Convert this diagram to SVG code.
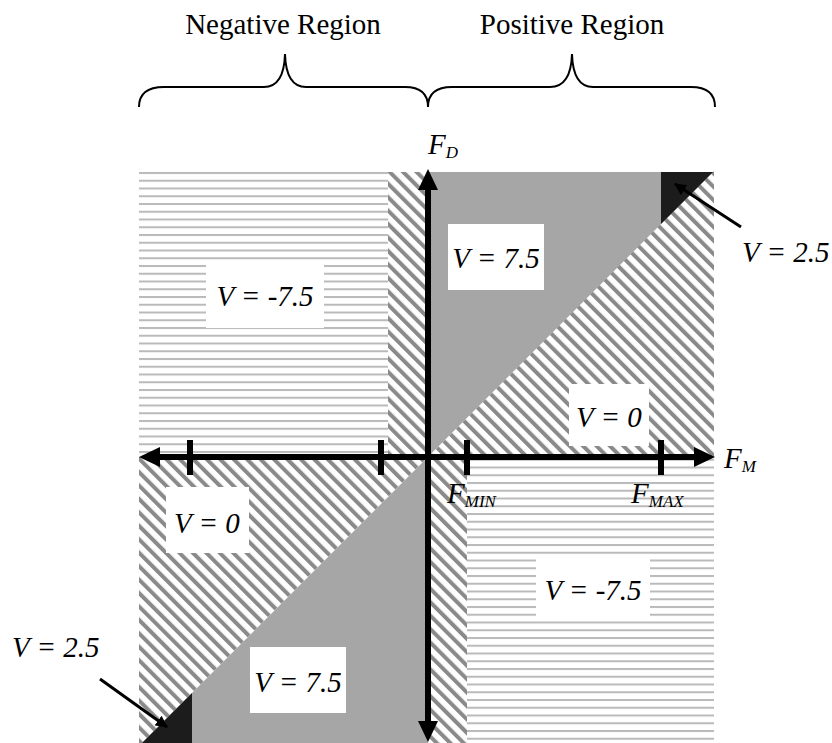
<svg xmlns="http://www.w3.org/2000/svg" width="832" height="743" viewBox="0 0 832 743">
  <style>
    .t { font-family: "Liberation Serif", "Times New Roman", serif; font-size: 29px; fill: #000; }
    .it { font-style: italic; }
    .sub { font-size: 17px; font-style: italic; }
    .box { fill: #fff; }
    .axis { stroke: #000; stroke-width: 6; fill: none; }
    .tick { fill: #000; }
    .brace { stroke: #000; stroke-width: 2; fill: none; }
    .conn { stroke: #000; stroke-width: 3; fill: none; }
  </style>
  <defs>
    <pattern id="hl" patternUnits="userSpaceOnUse" x="0" y="172" width="16" height="7.75">
      <rect width="16" height="2" fill="#bababa"/>
    </pattern>
    <pattern id="hatch" patternUnits="userSpaceOnUse" width="9.5" height="9.5" patternTransform="rotate(-45)">
      <rect width="9.5" height="9.5" fill="#fff"/>
      <rect width="4" height="9.5" fill="#8a8a8a"/>
    </pattern>
    <marker id="ah" viewBox="0 0 12 12" refX="11" refY="6" markerWidth="12" markerHeight="12" markerUnits="userSpaceOnUse" orient="auto">
      <path d="M0,0 L12,6 L0,12 Z" fill="#000"/>
    </marker>
  </defs>

  <rect width="832" height="743" fill="#fff"/>

  <!-- region headings and braces -->
  <g id="heading-negative">
    <text class="t" x="283" y="34" text-anchor="middle">Negative Region</text>
    <path class="brace" d="M139,107 Q139,87 164,87 L264,87 Q284,87 285,54 Q286,87 306,87 L405,87 Q428,87 428,107"/>
  </g>
  <g id="heading-positive">
    <text class="t" x="572" y="34" text-anchor="middle">Positive Region</text>
    <path class="brace" d="M428,107 Q428,87 452,87 L550,87 Q571,87 572,54 Q573,87 593,87 L691,87 Q715,87 715,107"/>
  </g>

  <!-- regions -->
  <g id="regions">
    <rect x="139" y="172" width="249" height="285" fill="url(#hl)"/>
    <rect x="388" y="172" width="40" height="285" fill="url(#hatch)"/>
    <polygon points="428,172 714,172 428,457" fill="#a6a6a6"/>
    <polygon points="428,457 714,171 714,457" fill="url(#hatch)"/>
    <polygon points="661,172 713,172 661,224" fill="#1c1c1c"/>
    <polygon points="139,457 428,457 139,746" fill="url(#hatch)"/>
    <polygon points="428,457 428,743 142,743" fill="#a6a6a6"/>
    <polygon points="192,693 192,743 142,743" fill="#1c1c1c"/>
    <rect x="428" y="457" width="39" height="286" fill="url(#hatch)"/>
    <rect x="467" y="457" width="247" height="286" fill="url(#hl)"/>
  </g>

  <!-- axes -->
  <g id="axes">
    <line class="axis" x1="428" y1="188" x2="428" y2="724"/>
    <polygon points="428,169 418,190 438,190" fill="#000"/>
    <polygon points="428,742 418,721 438,721" fill="#000"/>
    <line class="axis" x1="157" y1="457" x2="697" y2="457"/>
    <polygon points="139,457 160,447 160,467" fill="#000"/>
    <polygon points="715,457 694,447 694,467" fill="#000"/>
    <rect class="tick" x="187" y="440" width="6" height="35"/>
    <rect class="tick" x="378" y="440" width="6" height="35"/>
    <rect class="tick" x="464" y="440" width="6" height="35"/>
    <rect class="tick" x="658" y="440" width="6" height="35"/>
  </g>

  <!-- axis labels -->
  <g id="label-fd"><text class="t it" x="428" y="154">F<tspan class="sub" dy="4">D</tspan></text></g>
  <g id="label-fm"><text class="t it" x="724" y="468">F<tspan class="sub" dy="4">M</tspan></text></g>
  <g id="label-fmin"><text class="t it" x="447" y="503">F<tspan class="sub" dy="4">MIN</tspan></text></g>
  <g id="label-fmax"><text class="t it" x="631" y="503">F<tspan class="sub" dy="4">MAX</tspan></text></g>

  <!-- value labels -->
  <g id="v-tl">
    <rect class="box" x="206" y="262" width="118" height="66"/>
    <text class="t it" x="265" y="306" text-anchor="middle">V = -7.5</text>
  </g>
  <g id="v-top">
    <rect class="box" x="448" y="224" width="96" height="66"/>
    <text class="t it" x="496" y="268" text-anchor="middle">V = 7.5</text>
  </g>
  <g id="v-right">
    <rect class="box" x="569" y="384" width="80" height="62"/>
    <text class="t it" x="609" y="427" text-anchor="middle">V = 0</text>
  </g>
  <g id="v-left">
    <rect class="box" x="166" y="487" width="83" height="66"/>
    <text class="t it" x="207" y="533" text-anchor="middle">V = 0</text>
  </g>
  <g id="v-bottom">
    <rect class="box" x="250" y="647" width="96" height="66"/>
    <text class="t it" x="298" y="692" text-anchor="middle">V = 7.5</text>
  </g>
  <g id="v-br">
    <rect class="box" x="536" y="556" width="114" height="64"/>
    <text class="t it" x="593" y="600" text-anchor="middle">V = -7.5</text>
  </g>
  <g id="v-25-top">
    <text class="t it" x="742" y="262">V = 2.5</text>
  </g>
  <g id="v-25-bottom">
    <text class="t it" x="12" y="657">V = 2.5</text>
  </g>

  <!-- connectors -->
  <g id="connectors">
    <line class="conn" x1="741" y1="227" x2="675" y2="184" marker-end="url(#ah)"/>
    <line class="conn" x1="100" y1="679" x2="167" y2="727" marker-end="url(#ah)"/>
  </g>
</svg>
